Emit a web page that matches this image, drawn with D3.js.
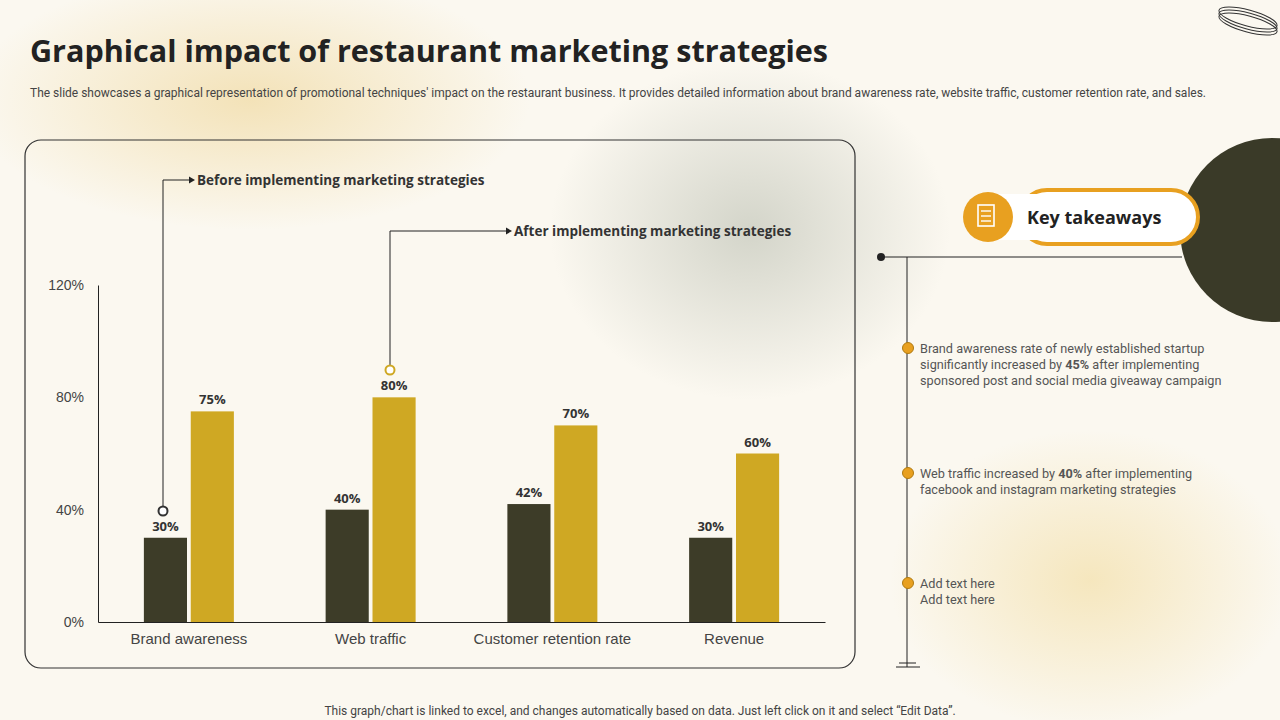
<!DOCTYPE html>
<html><head><meta charset="utf-8">
<script src="https://cdn.jsdelivr.net/npm/d3@7"></script>
<style>body{margin:0;background:#fbf8f0;font-family:Roboto,"Open Sans",sans-serif}</style>
</head><body><svg id="c" width="1280" height="720"></svg>
<script>
const categories=["Brand awareness","Web traffic","Customer retention rate","Revenue"];
const before=[30,40,42,30];
const after=[75,80,70,60];
const yTicks=[0,40,80,120];
const seriesNames=["Before implementing marketing strategies","After implementing marketing strategies"];
const takeaways=[
 ["Brand awareness rate of newly established startup","significantly increased by <b>45%</b> after implementing","sponsored post and social media giveaway  campaign"],
 ["Web traffic increased by <b>40%</b> after implementing","facebook and instagram marketing strategies"],
 ["Add text here","Add text here"]];
const svg=d3.select("#c");
const defs=svg.append("defs");
function rg(id,c,o){const g=defs.append("radialGradient").attr("id",id);g.append("stop").attr("offset","0").attr("stop-color",c).attr("stop-opacity",o);g.append("stop").attr("offset","1").attr("stop-color",c).attr("stop-opacity",0);}
rg("g1","#f0d9a0",0.7);rg("g2","#b9bdb0",0.6);rg("g3","#f3dfa8",0.7);
svg.append("rect").attr("width",1280).attr("height",720).attr("fill","#fbf8f0");
svg.append("ellipse").attr("cx",250).attr("cy",100).attr("rx",280).attr("ry",130).attr("fill","url(#g1)");
svg.append("ellipse").attr("cx",750).attr("cy",230).attr("rx",200).attr("ry",170).attr("fill","url(#g2)");
svg.append("ellipse").attr("cx",1090).attr("cy",580).attr("rx",200).attr("ry",150).attr("fill","url(#g3)");
svg.append("text").attr("x",30).attr("y",62).attr("font-size",30).attr("font-weight",700).attr("fill","#222").attr("font-family","'Open Sans',sans-serif").attr("textLength",798).attr("lengthAdjust","spacingAndGlyphs").text("Graphical impact of restaurant marketing strategies");
svg.append("text").attr("x",30).attr("y",97).attr("font-size",12).attr("fill","#444").attr("textLength",1176).attr("lengthAdjust","spacingAndGlyphs").text("The slide showcases a graphical representation of promotional techniques' impact on the restaurant business. It provides detailed information about brand awareness rate, website traffic, customer retention rate, and sales.");
svg.append("text").attr("x",640).attr("y",715).attr("text-anchor","middle").attr("font-size",12).attr("fill","#444").text("This graph/chart is linked to excel,  and changes automatically based on data. Just left click on it and select \u201cEdit Data\u201d.");
svg.append("rect").attr("x",25).attr("y",140).attr("width",830).attr("height",528).attr("rx",16).attr("fill","none").attr("stroke","#333").attr("stroke-width",1.2);
const y=d3.scaleLinear().domain([0,120]).range([622,285]);
const x=d3.scaleBand().domain(categories).range([98,825]).padding(0);
const inner=d3.scaleBand().domain([0,1]).range([-45,45]).paddingInner(0.08);
const ya=svg.append("g").attr("transform","translate(98,0)").call(d3.axisLeft(y).tickValues(yTicks).tickSize(0).tickPadding(14).tickFormat(d=>d+"%"));
ya.select(".domain").attr("stroke","#222");ya.selectAll("text").attr("font-size",14).attr("fill","#444");
const xa=svg.append("g").attr("transform","translate(0,622)").call(d3.axisBottom(x).tickSize(0).tickPadding(11));
xa.select(".domain").attr("stroke","#222");xa.selectAll("text").attr("font-size",15).attr("fill","#444");
const cols=["#3d3c28","#cfa823"];
[before,after].forEach((arr,si)=>{
 const g=svg.append("g");
 categories.forEach((c,i)=>{
  const cx=x(c)+x.bandwidth()/2+inner(si);
  g.append("rect").attr("x",cx).attr("y",y(arr[i])).attr("width",inner.bandwidth()).attr("height",y(0)-y(arr[i])).attr("fill",cols[si]);
  g.append("text").attr("x",cx+inner.bandwidth()/2).attr("y",y(arr[i])-7).attr("text-anchor","middle").attr("font-size",13).attr("font-weight",700).attr("fill","#333").attr("font-family","'Open Sans',sans-serif").text(arr[i]+"%");
 });
});
function callout(cx,cy,top,textX,label,col){
 svg.append("path").attr("d",`M${cx},${cy-5}V${top}H${textX-8}`).attr("fill","none").attr("stroke","#222").attr("stroke-width",1);
 svg.append("path").attr("d",`M${textX-8},${top-3.5}L${textX-2},${top}L${textX-8},${top+3.5}Z`).attr("fill","#222");
 svg.append("circle").attr("cx",cx).attr("cy",cy).attr("r",4.5).attr("fill","#fff").attr("stroke",col).attr("stroke-width",2);
 svg.append("text").attr("x",textX).attr("y",top+5).attr("font-size",13.5).attr("font-weight",700).attr("fill","#333").attr("font-family","'Open Sans',sans-serif").text(label);
}
callout(163,511,180,197,seriesNames[0],"#333");
callout(390,370,231,514,seriesNames[1],"#cfa823");
svg.append("circle").attr("cx",1272).attr("cy",230).attr("r",92).attr("fill","#3a3a28");
svg.append("rect").attr("x",1020).attr("y",190).attr("width",178).attr("height",54).attr("rx",27).attr("fill","#fff").attr("stroke","#e8a020").attr("stroke-width",4);
svg.append("rect").attr("x",990).attr("y",194).attr("width",60).attr("height",46).attr("fill","#fff");
svg.append("text").attr("x",1027).attr("y",224).attr("font-size",18).attr("font-weight",700).attr("fill","#222").attr("font-family","'Open Sans',sans-serif").text("Key takeaways");
svg.append("circle").attr("cx",988).attr("cy",217).attr("r",25).attr("fill","#e8a020");
svg.append("rect").attr("x",978).attr("y",205).attr("width",16).attr("height",21).attr("fill","none").attr("stroke","#fff").attr("stroke-width",1.6);
[211,216,221].forEach(v=>svg.append("line").attr("x1",981).attr("x2",991).attr("y1",v).attr("y2",v).attr("stroke","#fff").attr("stroke-width",1.4));
svg.append("line").attr("x1",881).attr("x2",1182).attr("y1",257).attr("y2",257).attr("stroke","#222");
svg.append("circle").attr("cx",881).attr("cy",257).attr("r",4).attr("fill","#222");
svg.append("line").attr("x1",907).attr("x2",907).attr("y1",257).attr("y2",667).attr("stroke","#222");
svg.append("line").attr("x1",896).attr("x2",920).attr("y1",667).attr("y2",667).attr("stroke","#222");
svg.append("line").attr("x1",899).attr("x2",916).attr("y1",663).attr("y2",663).attr("stroke","#222");
const by=[348,473,583];
takeaways.forEach((t,i)=>{
 svg.append("circle").attr("cx",908).attr("cy",by[i]).attr("r",5.5).attr("fill","#e8a020").attr("stroke","#b07a10");
 t.forEach((l,j)=>{
  const tx=svg.append("text").attr("x",920).attr("y",by[i]+5+j*16).attr("font-size",12.7).attr("fill","#555");
  l.split(/(<b>.*?<\/b>)/).forEach(p=>{if(!p)return;const b=p.startsWith("<b>");tx.append("tspan").attr("font-weight",b?700:400).text(p.replace(/<\/?b>/g,""));});
 });
});
[0,1,2].forEach(k=>svg.append("ellipse").attr("cx",1248).attr("cy",18+k*3).attr("rx",30).attr("ry",8).attr("transform",`rotate(15,1248,${18+k*3})`).attr("fill","none").attr("stroke","#333"));
</script></body></html>
